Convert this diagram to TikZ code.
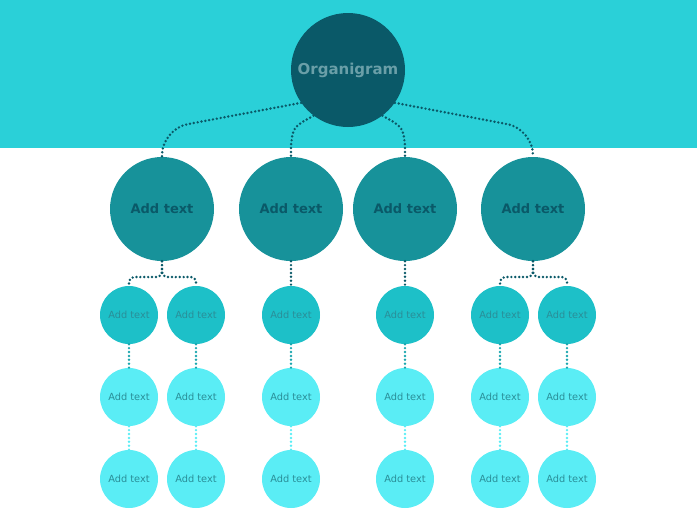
\documentclass[tikz,border=0pt]{standalone}
\usepackage{fontspec}
\setmainfont{DejaVu Sans}
\usetikzlibrary{positioning}

\definecolor{band}{HTML}{2AD0D8}
\definecolor{rootfill}{HTML}{0A5968}
\definecolor{rootfont}{HTML}{6A9FA8}
\definecolor{headfill}{HTML}{17929A}
\definecolor{leafdark}{HTML}{1DC0C8}
\definecolor{leaflight}{HTML}{5AEDF5}
\definecolor{leaffont}{HTML}{2A8E98}
\definecolor{linkmid}{HTML}{1AA6AE}

\begin{document}
\begin{tikzpicture}[
  x=1pt, y=-1pt,
  root/.style={circle, fill=rootfill, minimum size=114pt, inner sep=0pt, font=\fontsize{15}{18}\selectfont\bfseries, text=rootfont},
  head/.style={circle, fill=headfill, minimum size=104pt, inner sep=0pt, font=\fontsize{13}{16}\selectfont\bfseries, text=rootfill},
  leaf/.style={circle, fill=leaflight, minimum size=58pt, inner sep=0pt, font=\fontsize{9.8}{12}\selectfont, text=leaffont},
  link/.style={draw=rootfill, line width=2.7pt, line cap=round, dash pattern=on 0pt off 3.9pt}
]

\useasboundingbox (0,0) rectangle (697,520);
\fill[band] (0,0) rectangle (697,148);

\node[root] (root) at (348,70) {Organigram};

\node[head] (a) at (162,209) {Add text};
\node[head] (b) at (291,209) {Add text};
\node[head] (c) at (405,209) {Add text};
\node[head] (d) at (533,209) {Add text};

% root to heads
\draw[link, rounded corners=26pt] (root.215) -- (162,129) -- (a.north);
\draw[link] (root.233) .. controls (293,127) .. (291,146) -- (b.north);
\draw[link] (root.307) .. controls (403,127) .. (405,146) -- (c.north);
\draw[link, rounded corners=26pt] (root.325) -- (533,129) -- (d.north);

% leaves
\foreach \n/\x in {a1/129, a2/196, b1/291, c1/405, d1/500, d2/567} {
  \node[leaf, fill=leafdark] (\n-1) at (\x,315) {Add text};
  \node[leaf] (\n-2) at (\x,397) {Add text};
  \node[leaf] (\n-3) at (\x,479) {Add text};
  \draw[link, draw=linkmid] (\n-1) -- (\n-2);
  \draw[link, draw=leaflight] (\n-2) -- (\n-3);
}

% heads to leaves
\draw[link, rounded corners=5pt] (a.south) -- (162,277) -- (129,277) -- (a1-1.north);
\draw[link, rounded corners=5pt] (a.south) -- (162,277) -- (196,277) -- (a2-1.north);
\draw[link] (b.south) -- (b1-1.north);
\draw[link] (c.south) -- (c1-1.north);
\draw[link, rounded corners=5pt] (d.south) -- (533,277) -- (500,277) -- (d1-1.north);
\draw[link, rounded corners=5pt] (d.south) -- (533,277) -- (567,277) -- (d2-1.north);

\end{tikzpicture}
\end{document}
